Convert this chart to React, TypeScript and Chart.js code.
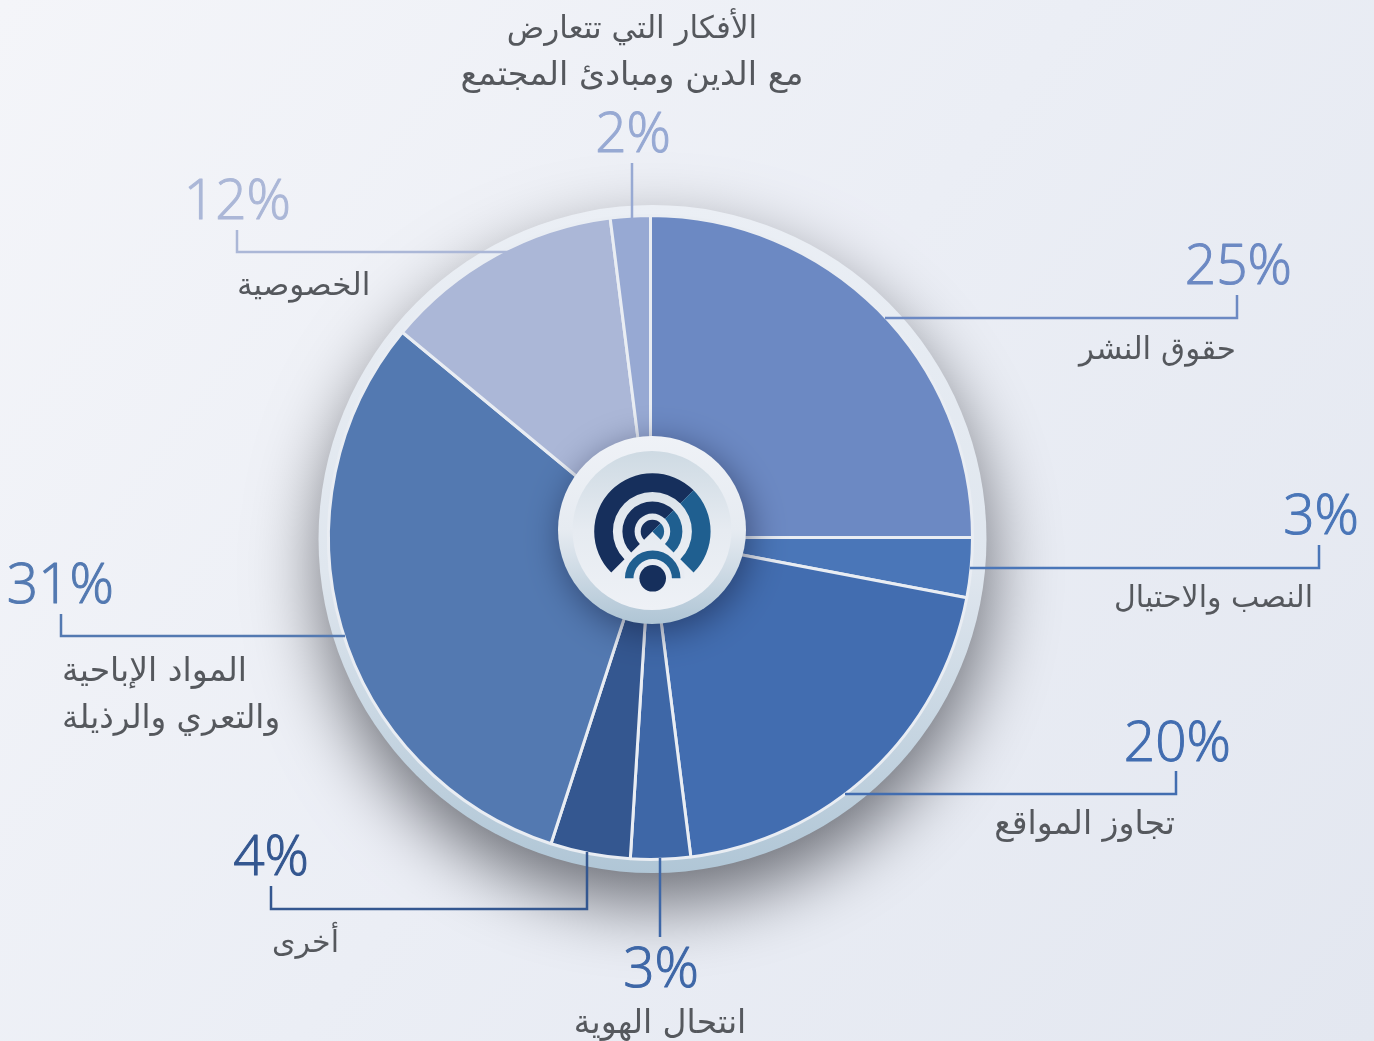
import React, { useEffect, useRef } from "react";
import { Chart, registerables } from "chart.js";

Chart.register(...registerables);

const categories = [
  ["حقوق النشر"],
  ["النصب والاحتيال"],
  ["تجاوز المواقع"],
  ["انتحال الهوية"],
  ["أخرى"],
  ["المواد الإباحية", "والتعري والرذيلة"],
  ["الخصوصية"],
  ["الأفكار التي تتعارض", "مع الدين ومبادئ المجتمع"],
];
const values = [25, 3, 20, 3, 4, 31, 12, 2];
const colors = ["#6c89c3", "#4a76b8", "#426db0", "#3e67a7", "#345790", "#5379b1", "#abb7d7", "#97a9d3"];

type Callout = {
  path: number[][];
  pct: number[];
  labelX: number;
  labelY: number[];
  labelSize: number[];
  align: CanvasTextAlign;
};
const callouts: Callout[] = [
  { path: [[885, 318], [1237, 318], [1237, 295]], pct: [1292, 284], labelX: 1236, labelY: [359], labelSize: [31], align: "right" },
  { path: [[970, 568], [1319, 568], [1319, 545]], pct: [1359, 534], labelX: 1313, labelY: [607], labelSize: [30], align: "right" },
  { path: [[845, 794], [1176, 794], [1176, 771]], pct: [1231, 761], labelX: 1175, labelY: [834], labelSize: [33], align: "right" },
  { path: [[660, 858], [660, 937]], pct: [699, 987], labelX: 660, labelY: [1033], labelSize: [33], align: "center" },
  { path: [[587, 852], [587, 909], [271, 909], [271, 886]], pct: [309, 875], labelX: 339, labelY: [952], labelSize: [30], align: "right" },
  { path: [[345, 636], [61, 636], [61, 614]], pct: [114, 603], labelX: 62, labelY: [681, 728], labelSize: [33, 32.5], align: "left" },
  { path: [[510, 252], [237, 252], [237, 230]], pct: [291, 219], labelX: 237, labelY: [295], labelSize: [31], align: "left" },
  { path: [[632, 218], [632, 163]], pct: [671, 152], labelX: 632, labelY: [38, 85], labelSize: [31, 33.5], align: "center" },
];

const PCT_FONT = "300 55px 'Open Sans'";
const LABEL_COLOR = "#55585d";

const backdrop = {
  id: "backdrop",
  beforeDraw(chart: any) {
    const { ctx, width, height } = chart;
    ctx.save();
    const bg = ctx.createLinearGradient(0, 0, width, height);
    bg.addColorStop(0, "#f4f5f9");
    bg.addColorStop(0.5, "#ebeef5");
    bg.addColorStop(1, "#e3e7f0");
    ctx.fillStyle = bg;
    ctx.fillRect(0, 0, width, height);
    const ring = ctx.createLinearGradient(0, 205, 0, 873);
    ring.addColorStop(0, "#ebeff5");
    ring.addColorStop(0.55, "#dfe6ee");
    ring.addColorStop(1, "#b0c6d6");
    ctx.shadowColor = "rgba(30,32,40,0.62)";
    ctx.shadowBlur = 70;
    ctx.shadowOffsetX = 2;
    ctx.shadowOffsetY = 30;
    ctx.fillStyle = ring;
    ctx.beginPath();
    ctx.arc(652.5, 539, 334, 0, Math.PI * 2);
    ctx.fill();
    ctx.restore();
  },
};

function sector(ctx: CanvasRenderingContext2D, cx: number, cy: number, r0: number, r1: number, a0: number, a1: number, fill: string) {
  ctx.fillStyle = fill;
  ctx.beginPath();
  ctx.arc(cx, cy, r1, a0, a1);
  if (r0 > 0) ctx.arc(cx, cy, r0, a1, a0, true);
  else ctx.lineTo(cx, cy);
  ctx.closePath();
  ctx.fill();
}

const overlay = {
  id: "overlay",
  afterDatasetsDraw(chart: any) {
    const { ctx } = chart;
    ctx.save();
    const cx = 652, cy = 530;
    const disc = ctx.createLinearGradient(0, 436, 0, 624);
    disc.addColorStop(0, "#eff2f7");
    disc.addColorStop(0.5, "#e6ebf1");
    disc.addColorStop(1, "#afc5d5");
    ctx.save();
    ctx.shadowColor = "rgba(18,28,60,0.55)";
    ctx.shadowBlur = 36;
    ctx.shadowOffsetX = 4;
    ctx.shadowOffsetY = 8;
    ctx.fillStyle = disc;
    ctx.beginPath();
    ctx.arc(cx, cy, 94, 0, Math.PI * 2);
    ctx.fill();
    ctx.restore();
    const inner = ctx.createLinearGradient(0, 451, 0, 610);
    inner.addColorStop(0, "#cedae3");
    inner.addColorStop(0.5, "#e6ebf1");
    inner.addColorStop(1, "#eef1f6");
    ctx.fillStyle = inner;
    ctx.beginPath();
    ctx.arc(cx, cy + 0.5, 79.5, 0, Math.PI * 2);
    ctx.fill();

    const ix = 652.4, iy = 531.4;
    const dark = "#162f5c", blue = "#1f5f90";
    const q = Math.PI / 4;
    const rings = [[39.5, 58.2], [17.8, 30], [0, 11.7]];
    for (const [r0, r1] of rings) {
      sector(ctx, ix, iy, r0, r1, 3 * q, 7 * q, dark);
      sector(ctx, ix, iy, r0, r1, -q, q, blue);
    }
    ctx.fillStyle = "#e8ecf2";
    ctx.beginPath();
    ctx.arc(652.7, 578.3, 32, Math.PI, 0);
    ctx.fill();
    sector(ctx, 652.7, 578.3, 19.2, 27.8, Math.PI, 2 * Math.PI, blue);
    ctx.fillStyle = dark;
    ctx.beginPath();
    ctx.arc(652.7, 578.3, 13.3, 0, Math.PI * 2);
    ctx.fill();

    callouts.forEach((c, i) => {
      ctx.strokeStyle = colors[i];
      ctx.lineWidth = 2.5;
      ctx.lineJoin = "miter";
      ctx.beginPath();
      c.path.forEach(([x, y], j) => (j ? ctx.lineTo(x, y) : ctx.moveTo(x, y)));
      ctx.stroke();

      ctx.fillStyle = colors[i];
      ctx.font = PCT_FONT;
      ctx.direction = "ltr";
      ctx.textAlign = "right";
      ctx.textBaseline = "alphabetic";
      ctx.lineWidth = 1;
      ctx.lineJoin = "round";
      ctx.fillText(`${values[i]}%`, c.pct[0], c.pct[1]);
      ctx.strokeText(`${values[i]}%`, c.pct[0], c.pct[1]);

      ctx.fillStyle = LABEL_COLOR;
      ctx.direction = "rtl";
      ctx.textAlign = c.align;
      categories[i].forEach((line, j) => {
        ctx.font = `${c.labelSize[j]}px 'DejaVu Sans'`;
        ctx.fillText(line, c.labelX, c.labelY[j]);
      });
    });
    ctx.restore();
  },
};

export default function App() {
  const ref = useRef<HTMLCanvasElement>(null);
  useEffect(() => {
    const chart = new Chart(ref.current!, {
      type: "pie",
      data: {
        labels: categories.map((c) => c.join(" ")),
        datasets: [
          {
            data: values,
            backgroundColor: colors,
            borderColor: "#e9edf3",
            borderWidth: 3,
            borderAlign: "center",
          },
        ],
      },
      options: {
        responsive: false,
        animation: false,
        layout: { padding: { left: 327, right: 400, top: 213, bottom: 179 } },
        plugins: { legend: { display: false }, tooltip: { enabled: false } },
      },
      plugins: [backdrop, overlay],
    } as any);
    return () => chart.destroy();
  }, []);
  return (
    <div style={{ position: "absolute", left: 0, top: 0, width: 1374, height: 1041 }}>
      <canvas ref={ref} width={1374} height={1041} style={{ display: "block" }} />
    </div>
  );
}
